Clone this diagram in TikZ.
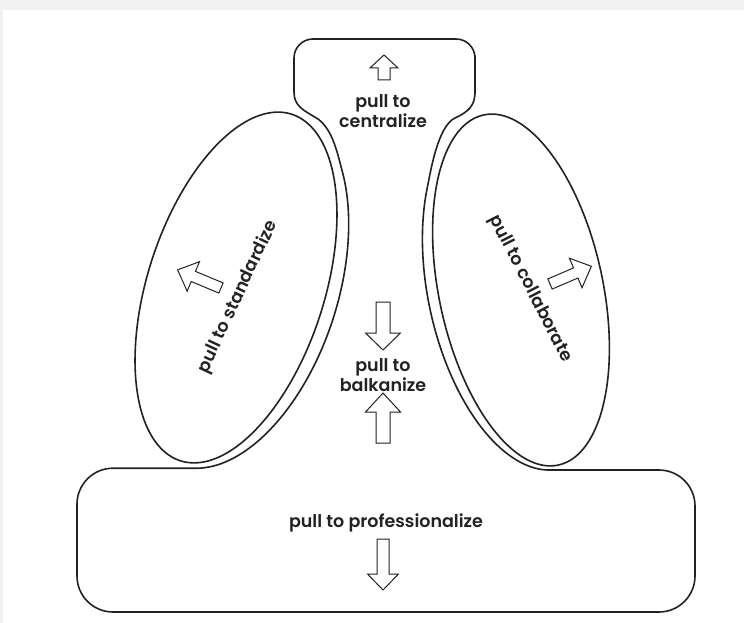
\documentclass[tikz,border=0pt]{standalone}
\usepackage{fontspec}
\setmainfont{Poppins}[BoldFont={Poppins SemiBold}]
\definecolor{bgray}{HTML}{F0F1F3}
\definecolor{ink}{HTML}{222222}
\tikzset{
  outline/.style={draw=ink, line width=1.6pt, line join=round},
  blockarrow/.style={draw=ink, line width=1pt, fill=white, line join=miter},
  lbl/.style={text=ink, font=\fontsize{17.5}{20.5}\selectfont\bfseries, align=center, inner sep=0pt},
}
% #1,#2 tail; #3 angle; #4 length; #5 shaft width; #6 head width; #7 head length
\newcommand\blkarrow[7]{%
  \draw[blockarrow, shift={(#1,#2)}, rotate=#3]
    (0,-#5/2) -- (#4-#7,-#5/2) -- (#4-#7,-#6/2) -- (#4,0) -- (#4-#7,#6/2) -- (#4-#7,#5/2) -- (0,#5/2) -- cycle;}
\begin{document}
\begin{tikzpicture}[x=1pt,y=-1pt]
\useasboundingbox (0,0) rectangle (744,623);
\fill[bgray] (0,0) rectangle (744,623);
\fill[white] (3,10) rectangle (744,623);

% left ellipse (standardize)
\draw[outline] plot[domain=0:357, samples=120, smooth cycle, variable=\t]
  ({236+55.64*cos(\t)+84.26*sin(\t)},{287.5-173.28*cos(\t)+27.05*sin(\t)});
% right ellipse (collaborate)
\draw[outline] plot[domain=0:357, samples=120, smooth cycle, variable=\t]
  ({521-37.21*cos(\t)+80.20*sin(\t)},{290-175.08*cos(\t)-17.05*sin(\t)});

% big outline: top box, necks, centre, bottom box
\draw[outline] (294,80) [rounded corners=19pt] -- (294,39) -- (475,39) -- (475,75) [sharp corners] -- (475,92)
  .. controls (475,106) and (468,112) .. (455,118)
  .. controls (438,126) and (430.7,170.2) .. (426.9,189.8)
  -- plot[domain=0:1, samples=60, smooth, variable=\s]
     ({521-38.05*cos(-50-123.84*\s)+90.96*sin(-50-123.84*\s)},{290-178.99*cos(-50-123.84*\s)-19.33*sin(-50-123.84*\s)})
  -- (600,470) [rounded corners=36pt] -- (695,470) -- (695,612) -- (77,612) -- (77,468.2) -- (160,468.2) [sharp corners] -- (196.4,468.2)
  -- plot[domain=0:1, samples=60, smooth, variable=\s]
     ({236+57.17*cos(170.07-130.07*\s)+97.11*sin(170.07-130.07*\s)},{287.5-178.04*cos(170.07-130.07*\s)+31.18*sin(170.07-130.07*\s)})
  .. controls (337.5,153.8) and (333,130) .. (318,119)
  .. controls (303,110) and (294,106) .. (294,92) -- cycle;

% arrows
\blkarrow{384}{80}{90}{25}{12}{28}{13}
\blkarrow{383}{302}{-90}{48}{14}{35}{17}
\blkarrow{383}{443}{90}{50}{14}{35}{19}
\blkarrow{383}{539}{-90}{51}{12}{31}{16}
\blkarrow{221}{288}{157.3}{47}{11}{32}{17}
\blkarrow{550}{284}{23.2}{45}{11}{32}{17}

% labels
\node[lbl] (centralize) at (383,111) {pull to\\centralize};
\node[lbl] (balkanize) at (383,375) {pull to\\balkanize};
\node[lbl] (professionalize) at (386,523) {pull to professionalize};
\node[lbl, rotate=65] (standardize) at (238,297) {pull to standardize};
\node[lbl, rotate=-63] (collaborate) at (530,289) {pull to collaborate};
\end{tikzpicture}
\end{document}
